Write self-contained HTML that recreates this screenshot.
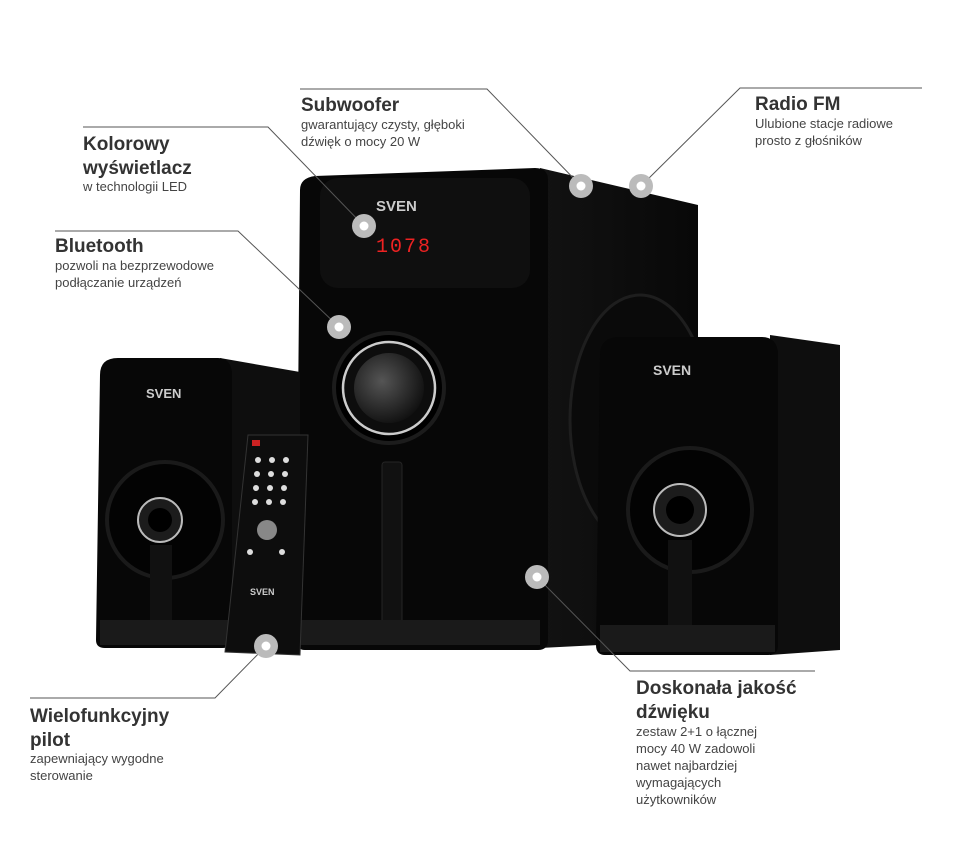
<!DOCTYPE html>
<html><head><meta charset="utf-8"><style>
html,body{margin:0;padding:0;background:#fff;}
svg{display:block}
.t{font-family:"Liberation Sans",sans-serif;font-weight:bold;font-size:19px;fill:#333}
.s{font-family:"Liberation Sans",sans-serif;font-size:13px;fill:#444}
</style></head><body>
<svg width="960" height="848" viewBox="0 0 960 848" xmlns="http://www.w3.org/2000/svg">
<defs>
<radialGradient id="cone" cx="0.4" cy="0.4" r="0.7"><stop offset="0" stop-color="#555"/><stop offset="1" stop-color="#0a0a0a"/></radialGradient>
<linearGradient id="side" x1="0" x2="1"><stop offset="0" stop-color="#121212"/><stop offset="1" stop-color="#080808"/></linearGradient>
</defs>
<!-- subwoofer side -->
<polygon points="540,168 698,205 698,640 540,648" fill="url(#side)"/>
<ellipse cx="640" cy="420" rx="70" ry="125" fill="#0a0a0a" stroke="#1e1e1e" stroke-width="3"/>
<!-- subwoofer front -->
<path d="M300,190 Q300,178 315,176 L535,168 Q548,168 548,180 L548,640 Q548,650 538,650 L305,650 Q296,650 296,640 Z" fill="#070707"/>
<rect x="320" y="178" width="210" height="110" rx="18" fill="#0f0f0f"/>
<text x="376" y="211" font-family="Liberation Sans,sans-serif" font-weight="bold" font-size="15" fill="#ccc">SVEN</text>
<text x="376" y="252" font-family="Liberation Mono,monospace" font-size="20" fill="#e22" letter-spacing="2">1078</text>
<circle cx="389" cy="388" r="55" fill="#000" stroke="#1c1c1c" stroke-width="4"/>
<circle cx="389" cy="388" r="46" fill="#0d0d0d" stroke="#ccc" stroke-width="2.5"/>
<circle cx="389" cy="388" r="35" fill="url(#cone)"/>
<rect x="382" y="462" width="20" height="170" rx="3" fill="#111" stroke="#252525"/>
<rect x="300" y="620" width="240" height="25" fill="#1a1a1a"/>
<!-- left satellite -->
<polygon points="220,358 300,372 300,640 220,648" fill="#0e0e0e"/>
<path d="M100,375 Q100,358 118,358 L218,358 Q230,358 232,372 L232,640 Q232,648 222,648 L105,648 Q96,648 96,640 Z" fill="#070707"/>
<text x="146" y="398" font-family="Liberation Sans,sans-serif" font-weight="bold" font-size="13" fill="#ccc">SVEN</text>
<circle cx="165" cy="520" r="58" fill="#030303" stroke="#1a1a1a" stroke-width="4"/>
<circle cx="160" cy="520" r="22" fill="#1c1c1c" stroke="#bbb" stroke-width="2"/>
<circle cx="160" cy="520" r="12" fill="#000"/>
<rect x="150" y="545" width="22" height="95" fill="#111"/>
<rect x="100" y="620" width="130" height="25" fill="#1a1a1a"/>
<!-- remote -->
<polygon points="248,435 308,435 300,655 225,652" fill="#0d0d0d" stroke="#333"/>
<rect x="252" y="440" width="8" height="6" fill="#c22"/>
<g fill="#ddd">
<circle cx="258" cy="460" r="3"/><circle cx="272" cy="460" r="3"/><circle cx="286" cy="460" r="3"/>
<circle cx="257" cy="474" r="3"/><circle cx="271" cy="474" r="3"/><circle cx="285" cy="474" r="3"/>
<circle cx="256" cy="488" r="3"/><circle cx="270" cy="488" r="3"/><circle cx="284" cy="488" r="3"/>
<circle cx="255" cy="502" r="3"/><circle cx="269" cy="502" r="3"/><circle cx="283" cy="502" r="3"/>
<circle cx="267" cy="530" r="10" fill="#888"/>
<circle cx="250" cy="552" r="3"/><circle cx="282" cy="552" r="3"/>
</g>
<text x="250" y="595" font-family="Liberation Sans,sans-serif" font-weight="bold" font-size="9" fill="#ccc">SVEN</text>
<!-- right satellite -->
<polygon points="770,335 840,345 840,650 770,655" fill="#0e0e0e"/>
<path d="M600,355 Q600,337 620,337 L762,337 Q776,337 778,352 L778,645 Q778,655 768,655 L605,655 Q596,655 596,645 Z" fill="#070707"/>
<text x="653" y="375" font-family="Liberation Sans,sans-serif" font-weight="bold" font-size="14" fill="#ccc">SVEN</text>
<circle cx="690" cy="510" r="62" fill="#030303" stroke="#1a1a1a" stroke-width="4"/>
<circle cx="680" cy="510" r="26" fill="#1c1c1c" stroke="#bbb" stroke-width="2"/>
<circle cx="680" cy="510" r="14" fill="#000"/>
<rect x="668" y="540" width="24" height="105" fill="#111"/>
<rect x="600" y="625" width="175" height="27" fill="#1a1a1a"/>
<!-- lines -->
<g stroke="#555" stroke-width="1" fill="none">
<polyline points="300,89 487,89 581,186"/>
<polyline points="922,88 740,88 641,186"/>
<polyline points="83,127 268,127 364,226"/>
<polyline points="55,231 238,231 339,327"/>
<polyline points="815,671 630,671 537,577"/>
<polyline points="30,698 215,698 266,646"/>
</g>
<!-- dots -->
<g>
<circle cx="364" cy="226" r="12" fill="#bbb"/><circle cx="364" cy="226" r="4.5" fill="#fff"/>
<circle cx="339" cy="327" r="12" fill="#bbb"/><circle cx="339" cy="327" r="4.5" fill="#fff"/>
<circle cx="581" cy="186" r="12" fill="#bbb"/><circle cx="581" cy="186" r="4.5" fill="#fff"/>
<circle cx="641" cy="186" r="12" fill="#bbb"/><circle cx="641" cy="186" r="4.5" fill="#fff"/>
<circle cx="537" cy="577" r="12" fill="#bbb"/><circle cx="537" cy="577" r="4.5" fill="#fff"/>
<circle cx="266" cy="646" r="12" fill="#bbb"/><circle cx="266" cy="646" r="4.5" fill="#fff"/>
</g>
<!-- labels -->
<text class="t" x="301" y="111">Subwoofer</text>
<text class="s" x="301" y="129">gwarantujący czysty, głęboki</text>
<text class="s" x="301" y="146">dźwięk o mocy 20 W</text>
<text class="t" x="755" y="110">Radio FM</text>
<text class="s" x="755" y="128">Ulubione stacje radiowe</text>
<text class="s" x="755" y="145">prosto z głośników</text>
<text class="t" x="83" y="150">Kolorowy</text>
<text class="t" x="83" y="174">wyświetlacz</text>
<text class="s" x="83" y="191">w technologii LED</text>
<text class="t" x="55" y="252">Bluetooth</text>
<text class="s" x="55" y="270">pozwoli na bezprzewodowe</text>
<text class="s" x="55" y="287">podłączanie urządzeń</text>
<text class="t" x="636" y="694">Doskonała jakość</text>
<text class="t" x="636" y="718">dźwięku</text>
<text class="s" x="636" y="736">zestaw 2+1  o łącznej</text>
<text class="s" x="636" y="753">mocy 40 W zadowoli</text>
<text class="s" x="636" y="770">nawet najbardziej</text>
<text class="s" x="636" y="787">wymagających</text>
<text class="s" x="636" y="804">użytkowników</text>
<text class="t" x="30" y="722">Wielofunkcyjny</text>
<text class="t" x="30" y="746">pilot</text>
<text class="s" x="30" y="763">zapewniający wygodne</text>
<text class="s" x="30" y="780">sterowanie</text>
</svg>
</body></html>
